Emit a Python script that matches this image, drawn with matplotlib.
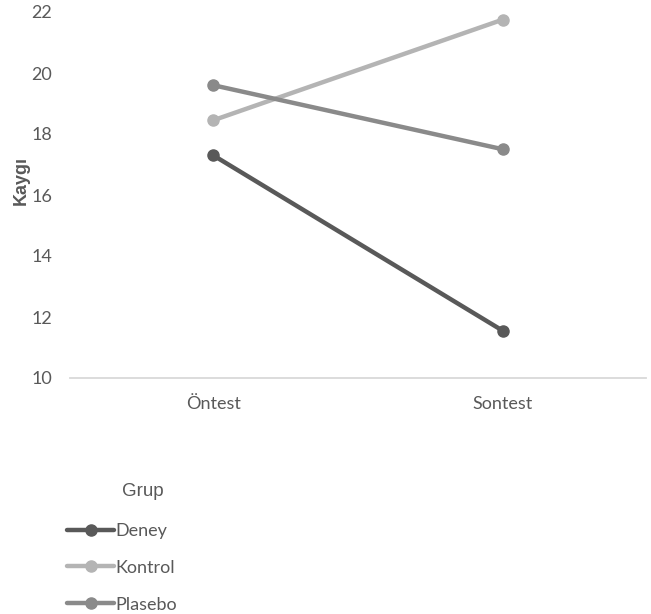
import matplotlib
matplotlib.use('Agg')
import matplotlib.pyplot as plt

# Dados
zamanlar = ['Öntest', 'Sontest']
gruplar = ['Deney', 'Kontrol', 'Plasebo']
deney = [17.3, 11.55]
kontrol = [18.45, 21.75]
plasebo = [19.6, 17.5]
renkler = ['#595959', '#b4b4b4', '#8a8a8a']

fig = plt.figure(figsize=(6.51, 6.14), dpi=100)
ax = fig.add_axes([70 / 651, 1 - 378 / 614, 576 / 651, 366 / 614])

x = range(len(zamanlar))
handles = []
for nome, vals, cor in zip(gruplar, [deney, kontrol, plasebo], renkler):
    h, = ax.plot(x, vals, color=cor, lw=3.2, marker='o', markersize=8,
                 solid_capstyle='round', label=nome, zorder=3)
    handles.append(h)

ax.set_xlim(-0.495, 1.495)
ax.set_ylim(10, 22)
ax.set_yticks([10, 12, 14, 16, 18, 20, 22])
ax.set_xticks(list(x))
ax.set_xticklabels(zamanlar)

for s in ['top', 'right', 'left']:
    ax.spines[s].set_visible(False)
ax.spines['bottom'].set_color('#d9d9d9')
ax.spines['bottom'].set_linewidth(1.3)
ax.tick_params(axis='both', length=0, labelsize=13, labelcolor='#595959')
ax.tick_params(axis='y', pad=13)
ax.tick_params(axis='x', pad=13)
for t in ax.get_xticklabels() + ax.get_yticklabels():
    t.set_fontfamily('Lato')

ax.set_ylabel('Kaygı', fontsize=13, fontweight='bold', color='#595959', family='Liberation Sans')
ax.yaxis.set_label_coords(-0.07, 0.54)

# Legenda
fig.text(143 / 651, 1 - 492 / 614, 'Grup', ha='center', va='center', fontsize=13.5,
         color='#595959', family='Liberation Sans')
leg = fig.legend(handles=handles, loc='upper left', bbox_to_anchor=(58 / 651, 1 - 514 / 614),
                 frameon=False, fontsize=13, handlelength=2.6, handletextpad=0.1,
                 labelspacing=1.15, borderpad=0)
for t in leg.get_texts():
    t.set_color('#595959')
    t.set_fontfamily('Lato')

fig.savefig('out.png', dpi=100)
